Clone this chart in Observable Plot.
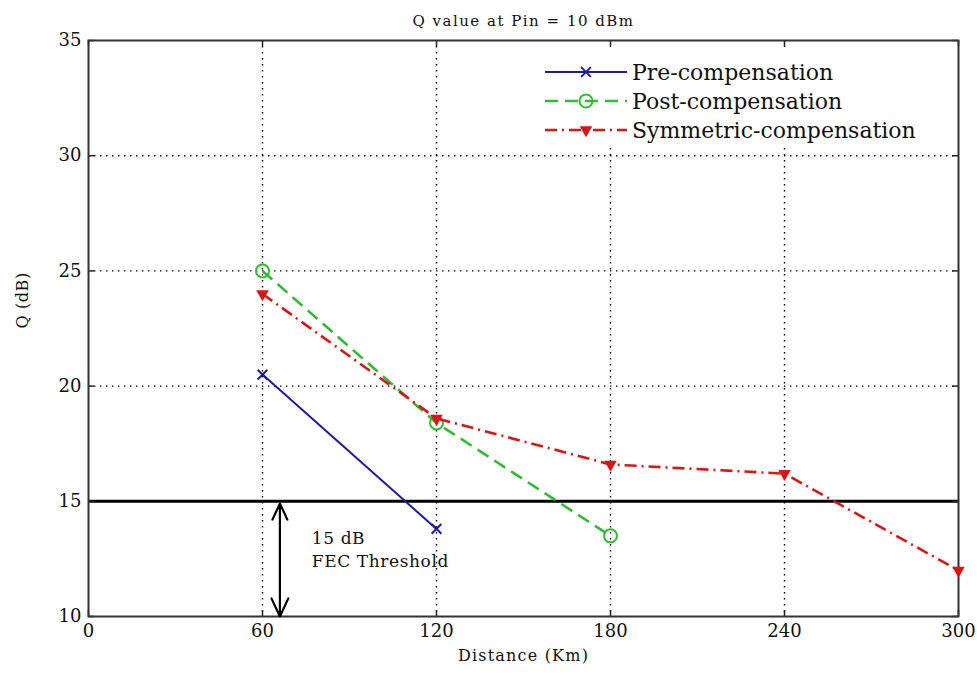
<!DOCTYPE html>
<html>
<head>
<meta charset="utf-8">
<script src="https://cdn.jsdelivr.net/npm/d3@7"></script>
<script src="https://cdn.jsdelivr.net/npm/@observablehq/plot@0.6"></script>
<style>
  body { margin: 0; background: #fff; }
  #wrap { position: relative; width: 977px; height: 675px; }
  #legend { position: absolute; left: 538px; top: 47px; width: 392px; height: 100px;
            background: #fff; font-family: "DejaVu Serif", serif; font-size: 22px; color: #111; }
  #legend .row { position: absolute; left: 0; height: 24px; display: flex; align-items: center; white-space: nowrap; }
  #legend svg { display: block; }
</style>
</head>
<body>
<div id="wrap"><div id="legend"></div></div>
<script>
// Transmission distance (km) at which Q was measured
const distances = [60, 120, 180, 240, 300];

// Q factor (dB) for each dispersion-compensation scheme
const preQ = [20.5, 13.8];
const postQ = [25.0, 18.4, 13.5];
const symQ = [24.0, 18.6, 16.6, 16.2, 12.0];

// Axis ticks
const xTicks = [0, 60, 120, 180, 240, 300];
const yTicks = [10, 15, 20, 25, 30, 35];

// Forward-error-correction threshold and its annotation
const fecThreshold = 15;
const fecLabel = ["15 dB", "FEC Threshold"];
const arrowDistance = 66;
const fecLabelDistance = 77;

const titleText = "Q value at Pin = 10 dBm";
const xLabel = "Distance (Km)";
const yLabel = "Q (dB)";

const series = [
  { name: "Pre-compensation", values: preQ, color: "#1c1ca0", width: 2, dash: null,
    symbol: "times", r: 4.5, fill: "none", rotate: 0 },
  { name: "Post-compensation", values: postQ, color: "#33bb33", width: 2.6, dash: "13,7",
    symbol: "circle", r: 6.5, fill: "none", rotate: 0 },
  { name: "Symmetric-compensation", values: symQ, color: "#d81616", width: 2.6, dash: "12,5,2,5",
    symbol: "triangle", r: 3.4, fill: "#d81616", rotate: 180 }
];

const W = 977, H = 675;
const M = { top: 40, right: 19, bottom: 59, left: 88 };
const innerW = W - M.left - M.right;
const innerH = H - M.top - M.bottom;
const tickLen = 6;

const seriesMarks = series.flatMap(s => {
  const data = s.values.map((q, i) => ({ distance: distances[i], q }));
  return [
    Plot.line(data, { x: "distance", y: "q", stroke: s.color, strokeWidth: s.width,
      strokeDasharray: s.dash, strokeLinecap: "butt" }),
    Plot.dot(data, { x: "distance", y: "q", symbol: s.symbol, r: s.r, stroke: s.color,
      fill: s.fill, strokeWidth: 2, rotate: s.rotate })
  ];
});

const chart = Plot.plot({
  width: W, height: H,
  marginTop: M.top, marginRight: M.right, marginBottom: M.bottom, marginLeft: M.left,
  style: { fontFamily: "'DejaVu Serif', serif", color: "#111", background: "#fff" },
  x: { domain: [0, 300], axis: null },
  y: { domain: [10, 35], axis: null },
  marks: [
    // dotted grid
    Plot.ruleX(xTicks.slice(1, -1), { x: d => d, stroke: "#000", strokeWidth: 1.4, strokeDasharray: "1.4,4.6" }),
    Plot.ruleY(yTicks.slice(1, -1), { y: d => d, stroke: "#000", strokeWidth: 1.4, strokeDasharray: "1.4,4.6" }),
    // FEC threshold
    Plot.ruleY([fecThreshold], { stroke: "#000", strokeWidth: 3 }),
    // inward tick marks on all four sides
    Plot.tickX(xTicks, { x: d => d, insetTop: innerH - tickLen, stroke: "#222", strokeWidth: 1.5 }),
    Plot.tickX(xTicks, { x: d => d, insetBottom: innerH - tickLen, stroke: "#222", strokeWidth: 1.5 }),
    Plot.tickY(yTicks, { y: d => d, insetRight: innerW - tickLen, stroke: "#222", strokeWidth: 1.5 }),
    Plot.tickY(yTicks, { y: d => d, insetLeft: innerW - tickLen, stroke: "#222", strokeWidth: 1.5 }),
    Plot.frame({ stroke: "#333", strokeWidth: 2 }),
    // tick labels
    Plot.axisX(xTicks, { tickSize: 0, tickPadding: 8, fontSize: 18, label: null }),
    Plot.axisY(yTicks, { tickSize: 0, tickPadding: 7, fontSize: 18, label: null }),
    // FEC annotation
    Plot.arrow([{ from: 12.6, to: 14.9 }, { from: 12.6, to: 10 }], {
      x: arrowDistance, y1: "from", y2: "to", x1: arrowDistance, x2: arrowDistance,
      stroke: "#000", strokeWidth: 2.2, headLength: 14, headAngle: 50 }),
    Plot.text([fecLabel.join("\n")], { x: fecLabelDistance, y: (13.52 + 12.43) / 2, text: d => d,
      textAnchor: "start", lineHeight: 1.4, fontSize: 17, fill: "#111" }),
    // data series
    ...seriesMarks,
    // titles
    Plot.text([titleText], { frameAnchor: "top", dy: -25, fontSize: 15, fill: "#111" }),
    Plot.text([xLabel], { frameAnchor: "bottom", dy: 44, fontSize: 16, fill: "#111" }),
    Plot.text([yLabel], { frameAnchor: "left", dx: -66, rotate: -90, fontSize: 16, fill: "#111" })
  ]
});

// wider letter spacing for the caption-style texts
const spacing = new Map([[titleText, 1.5], [xLabel, 1.2], [yLabel, 0.6], ...fecLabel.map(t => [t, 0.6])]);
d3.select(chart).selectAll("text, tspan").each(function () {
  const s = spacing.get(this.textContent);
  if (s !== undefined) this.setAttribute("letter-spacing", s);
});

document.getElementById("wrap").prepend(chart);

// legend
const legend = d3.select("#legend");
const rowTops = [13, 42, 71];
series.forEach((s, i) => {
  const row = legend.append("div").attr("class", "row").style("top", rowTops[i] + "px");
  const svg = row.append("svg").attr("width", 94).attr("height", 24);
  svg.append("line").attr("x1", 7).attr("x2", 89).attr("y1", 12).attr("y2", 12)
    .attr("stroke", s.color).attr("stroke-width", s.width)
    .attr("stroke-dasharray", s.dash);
  const sym = { times: d3.symbolTimes, circle: d3.symbolCircle, triangle: d3.symbolTriangle }[s.symbol];
  svg.append("path").attr("d", d3.symbol(sym, Math.PI * s.r * s.r)())
    .attr("transform", `translate(48,12) rotate(${s.rotate})`)
    .attr("stroke", s.color).attr("stroke-width", 2).attr("fill", s.fill);
  row.append("span").text(s.name);
});
</script>
</body>
</html>
